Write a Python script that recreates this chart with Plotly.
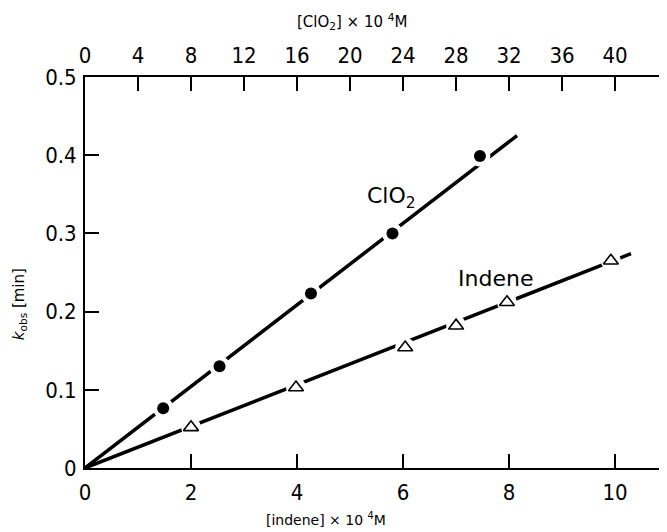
import plotly.graph_objects as go

# ClO2 series (top axis, [ClO2] x 10^-4 M)
clo2_x = [5.9, 10.15, 17.05, 23.2, 29.8]
clo2_y = [0.0765, 0.130, 0.223, 0.300, 0.399]
clo2_fit_x = [0, 32.6]
clo2_fit_y = [0, 0.425]

# Indene series (bottom axis, [indene] x 10^-4 M)
ind_x = [2.0, 3.98, 6.04, 7.0, 7.96, 9.92]
ind_y = [0.052, 0.103, 0.154, 0.182, 0.212, 0.265]
ind_fit_x = [0, 10.3]
ind_fit_y = [0, 0.274]

bottom_ticks = [0, 2, 4, 6, 8, 10]
top_ticks = [0, 4, 8, 12, 16, 20, 24, 28, 32, 36, 40]
y_ticks = [0, 0.1, 0.2, 0.3, 0.4, 0.5]
y_tick_text = ["0", "0.1", "0.2", "0.3", "0.4", "0.5"]

TICKFONT = dict(family="DejaVu Sans Condensed, DejaVu Sans", size=22, color="black")

fig = go.Figure()

# fitted lines
fig.add_trace(go.Scatter(x=clo2_fit_x, y=clo2_fit_y, xaxis="x2", mode="lines",
                         line=dict(color="black", width=3.5), showlegend=False))
fig.add_trace(go.Scatter(x=ind_fit_x, y=ind_fit_y, mode="lines",
                         line=dict(color="black", width=3.5), showlegend=False))

# white halos (gaps around markers)
fig.add_trace(go.Scatter(x=clo2_x, y=clo2_y, xaxis="x2", mode="markers",
                         marker=dict(symbol="circle", size=21, color="white"), showlegend=False))
fig.add_trace(go.Scatter(x=ind_x, y=ind_y, mode="markers",
                         marker=dict(symbol="circle", size=20, color="white"), showlegend=False))

# markers
fig.add_trace(go.Scatter(x=clo2_x, y=clo2_y, xaxis="x2", mode="markers",
                         marker=dict(symbol="circle", size=12, color="black"), showlegend=False))
fig.add_trace(go.Scatter(x=ind_x, y=ind_y, mode="markers",
                         marker=dict(symbol="triangle-up", size=13, color="white",
                                     line=dict(color="black", width=1.6)), showlegend=False))

# page body has an 8px default margin, so the figure is offset by (8, 8)
fig.update_layout(
    width=659, height=524,
    margin=dict(l=77, r=1, t=69, b=64),
    paper_bgcolor="white", plot_bgcolor="white",
    xaxis=dict(range=[0, 10.96], tickmode="array", tickvals=bottom_ticks,
               ticks="inside", ticklen=14, tickwidth=1.5, tickcolor="black",
               showline=True, linecolor="black", linewidth=2, showgrid=False,
               zeroline=False, tickfont=TICKFONT, ticklabelstandoff=4),
    xaxis2=dict(range=[0, 43.84], overlaying="x", side="top", tickmode="array",
                tickvals=top_ticks, ticks="inside", ticklen=14, tickwidth=1.5,
                tickcolor="black", showline=True, linecolor="black", linewidth=2,
                showgrid=False, zeroline=False, tickfont=TICKFONT, ticklabelstandoff=3),
    yaxis=dict(range=[0, 0.5], tickmode="array", tickvals=y_ticks, ticktext=y_tick_text,
               ticks="inside", ticklen=14, tickwidth=1.5, tickcolor="black",
               showline=True, linecolor="black", linewidth=2, showgrid=False,
               zeroline=False, tickfont=TICKFONT, ticklabelstandoff=2),
    shapes=[dict(type="line", xref="paper", yref="y", x0=0.997, x1=0.997, y0=0.25, y1=0.5,
                 line=dict(color="black", width=1))],
    annotations=[
        dict(text="ClO<sub>2</sub>", x=23.1, y=0.3465, xref="x2", yref="y",
             xanchor="center", yanchor="middle",
             showarrow=False, font=dict(family="DejaVu Sans", size=22, color="black")),
        dict(text="Indene", x=7.75, y=0.2417, xref="x", yref="y",
             xanchor="center", yanchor="middle",
             showarrow=False, font=dict(family="DejaVu Sans", size=22, color="black")),
        dict(text="[ClO<sub>2</sub>] × 10 <sup>4</sup>M", x=0.4596, y=1.143,
             xref="paper", yref="paper", xanchor="center", yanchor="middle", showarrow=False,
             font=dict(family="DejaVu Sans", size=15, color="black")),
        dict(text="[indene] × 10 <sup>4</sup>M", x=0.415, y=-0.13,
             xref="paper", yref="paper", xanchor="center", yanchor="middle", showarrow=False,
             font=dict(family="DejaVu Sans", size=14, color="black")),
        dict(text="<i>k</i><sub>obs</sub> [min]", x=-0.113, y=0.42, textangle=-90,
             xref="paper", yref="paper", xanchor="center", yanchor="middle", showarrow=False,
             font=dict(family="DejaVu Sans", size=15, color="black")),
    ],
)

fig.write_html("out.html")
